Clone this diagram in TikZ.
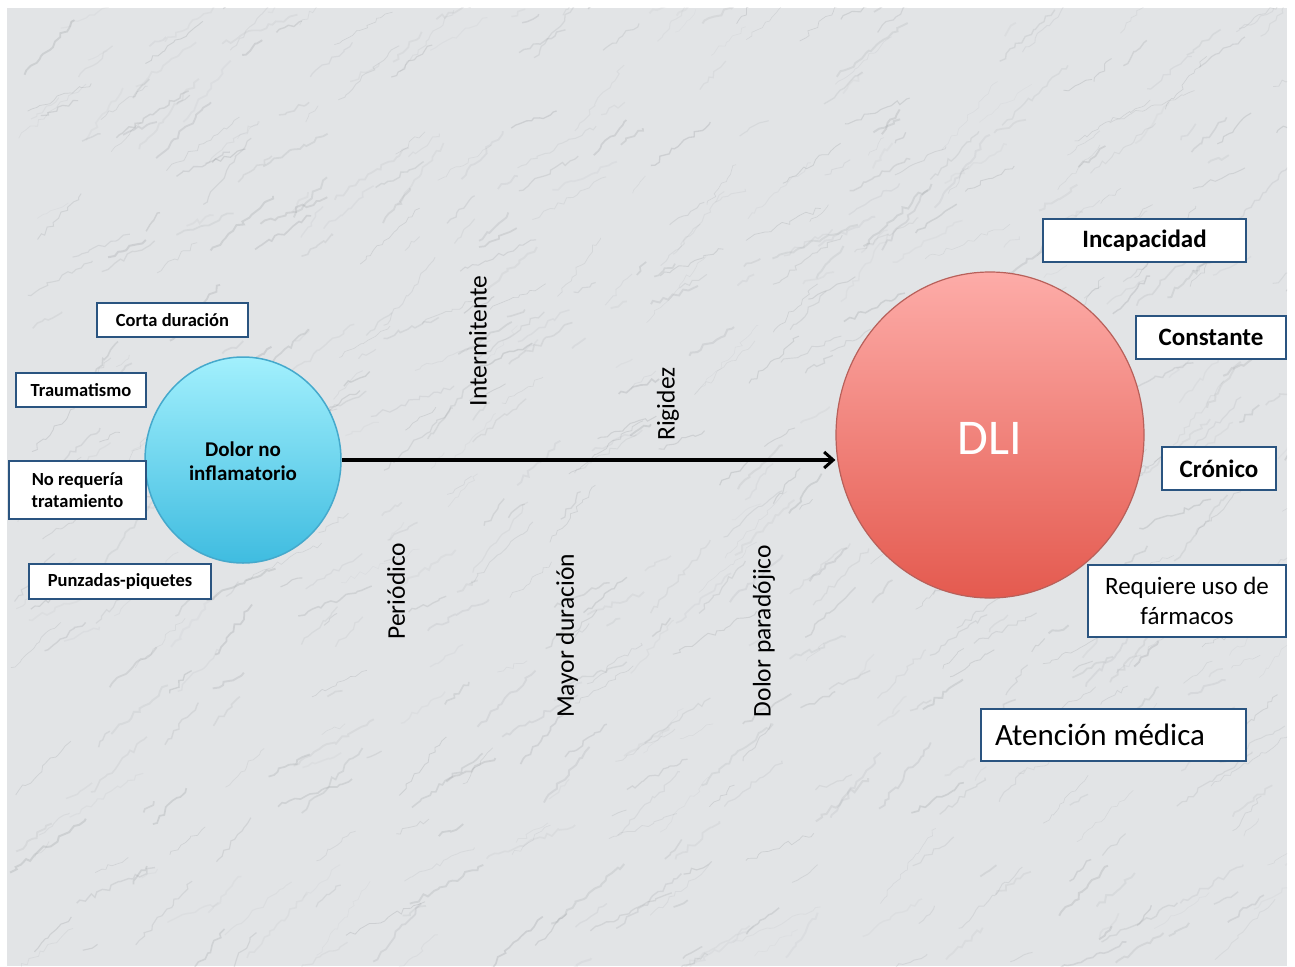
\documentclass[tikz,border=0pt]{standalone}
\usepackage{fontspec}
\setmainfont{Carlito}
\usetikzlibrary{arrows.meta,shapes.geometric,decorations.pathmorphing}
\definecolor{boxblue}{HTML}{2A5480}
\definecolor{marble}{HTML}{E2E4E6}
\definecolor{vein}{HTML}{8A8E92}
\definecolor{cyantop}{HTML}{A2F0FD}
\definecolor{cyanbot}{HTML}{3FBCE0}
\definecolor{cyanedge}{HTML}{45A9CC}
\definecolor{redtop}{HTML}{FDACA8}
\definecolor{redbot}{HTML}{E45A4F}
\definecolor{rededge}{HTML}{B8605A}
\tikzset{
  tag/.style={draw=boxblue, line width=2.2pt, fill=white, inner sep=0pt, align=center, font=\bfseries},
  smalltag/.style={tag, font=\bfseries\fontsize{18.5}{21}\selectfont},
  bigtag/.style={tag, minimum height=43pt, font=\bfseries\fontsize{25}{27}\selectfont},
  vlabel/.style={rotate=90, font=\fontsize{25.5}{27}\selectfont, inner sep=0pt},
}
\begin{document}
\begin{tikzpicture}[x=1pt,y=-1pt]
\useasboundingbox (0,0) rectangle (1295,966);
\fill[white] (0,0) rectangle (1295,966);
% marble background
\begin{scope}
\clip (7,8) rectangle (1287,966);
\fill[marble] (7,8) rectangle (1287,966);
\pgfmathsetseed{11}
\foreach \i in {1,...,700}{
  \pgfmathsetmacro\xa{7+1300*rnd}
  \pgfmathsetmacro\ya{8+980*rnd}
  \pgfmathsetmacro\an{-20-35*rnd}
  \pgfmathsetmacro\ln{15+80*rnd}
  \pgfmathsetmacro\op{0.06+0.18*rnd}
  \pgfmathsetmacro\lw{0.5+1.5*rnd}
  \draw[vein, opacity=\op, line width=\lw pt, decorate, decoration={random steps, segment length=5pt, amplitude=2.5pt}]
    (\xa,\ya) -- ++(\an:\ln);
}
\end{scope}

% left circle
\node[ellipse, minimum width=196pt, minimum height=206pt, draw=cyanedge, line width=1.5pt,
  top color=cyantop, bottom color=cyanbot, inner sep=0pt] (dni) at (243,460) {};
\node[font=\bfseries\fontsize{21}{24}\selectfont, align=center] (dnit) at (243,461) {Dolor no\\inflamatorio};

% right circle
\node[ellipse, minimum width=308pt, minimum height=326pt, draw=rededge, line width=1.2pt,
  top color=redtop, bottom color=redbot, inner sep=0pt] (dli) at (990,435) {};
\node[text=white, font=\fontsize{50}{50}\selectfont] (dlit) at (990,438) {DLI};

% arrow
\draw[line width=3.4pt, -{Straight Barb[length=9pt, width=16pt, line width=3pt]}] (dni.east) -- (dni.east -| dli.west);

% left boxes
\node[smalltag, minimum width=151pt, minimum height=34pt] (corta) at (172.5,320) {Corta duración};
\node[smalltag, minimum width=130pt, minimum height=34pt] (trauma) at (81,390) {Traumatismo};
\node[smalltag, minimum width=137pt, minimum height=58pt, font=\bfseries\fontsize{18.5}{22}\selectfont] (noreq) at (77.5,490) {No requería\\tratamiento};
\node[smalltag, minimum width=182pt, minimum height=35pt] (punz) at (120,581.5) {Punzadas-piquetes};

% right boxes
\node[bigtag, minimum width=203pt] (incap) at (1144.5,240.5) {Incapacidad};
\node[bigtag, minimum width=150pt] (const) at (1211,337.5) {Constante};
\node[bigtag, minimum width=114pt] (cronico) at (1219,468.5) {Crónico};
\node[tag, minimum width=198pt, minimum height=72pt, font=\fontsize{25}{30}\selectfont] (req) at (1187,601) {Requiere uso de\\fármacos};
\node[tag, minimum width=265pt, minimum height=52pt, font=\fontsize{31}{34}\selectfont, text width=237pt, align=flush left] (aten) at (1113.5,735) {Atención médica};

% vertical labels
\node[vlabel] (inter) at (478,341) {Intermitente};
\node[vlabel] (rig) at (668,404) {Rigidez};
\node[vlabel] (peri) at (396,591) {Periódico};
\node[vlabel] (mayor) at (567,636) {Mayor duración};
\node[vlabel] (parad) at (764,631) {Dolor paradójico};
\end{tikzpicture}
\end{document}
